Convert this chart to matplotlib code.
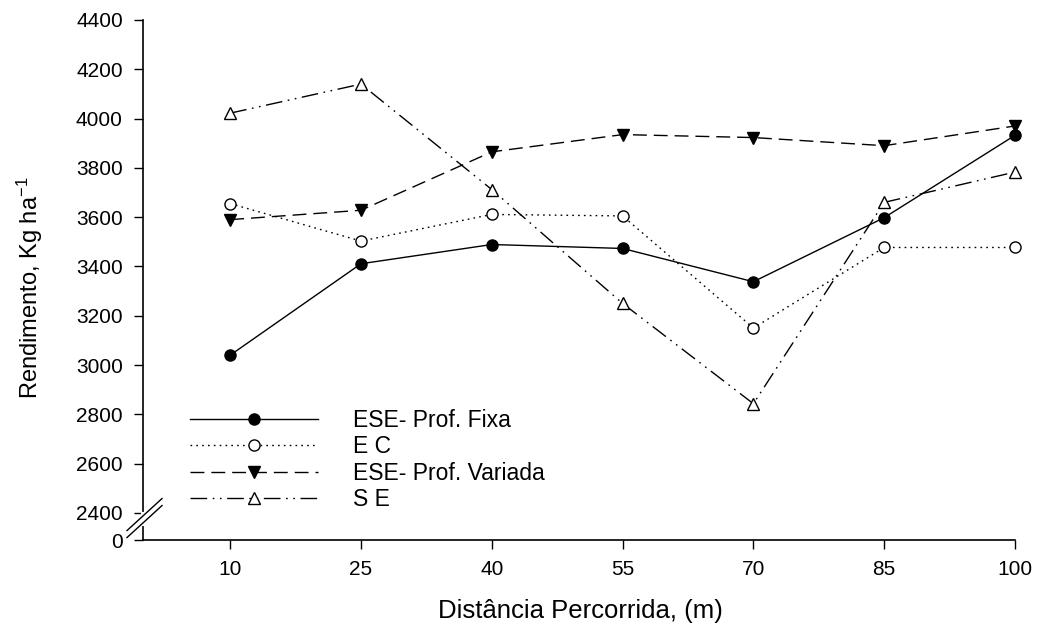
import matplotlib
matplotlib.use('Agg')
import matplotlib.pyplot as plt
from matplotlib.lines import Line2D
import numpy as np

plt.rcParams['font.family'] = ['Liberation Sans', 'DejaVu Sans']
plt.rcParams['mathtext.fontset'] = 'custom'
plt.rcParams['mathtext.rm'] = 'Liberation Sans'
plt.rcParams['mathtext.it'] = 'Liberation Sans'

# data
distancia = [10, 25, 40, 55, 70, 85, 100]
ese_fixa = [3040, 3411, 3489, 3473, 3338, 3598, 3932]
ec = [3655, 3503, 3611, 3605, 3150, 3477, 3477]
ese_variada = [3590, 3628, 3865, 3935, 3923, 3890, 3970]
se = [4022, 4140, 3712, 3250, 2843, 3660, 3783]

labels = ['ESE- Prof. Fixa', 'E C', 'ESE- Prof. Variada', 'S E']
yticks = [2400, 2600, 2800, 3000, 3200, 3400, 3600, 3800, 4000, 4200, 4400]

y_zero = 2290  # where the "0" of the broken axis sits

fig = plt.figure(figsize=(10.39, 6.27), dpi=100)
W, H = 1039, 627
ax = fig.add_axes([143/W, 1-540/H, (1015-143)/W, (540-20)/H])

ax.plot(distancia, ese_fixa, color='black', lw=1, ls='-', marker='o', ms=8,
        mfc='black', mec='black', label=labels[0], clip_on=False, zorder=3)
ax.plot(distancia, ec, color='black', lw=1, ls=(0, (1.2, 3)), marker='o', ms=8,
        mfc='white', mec='black', label=labels[1], clip_on=False, zorder=3)
ax.plot(distancia, ese_variada, color='black', lw=1, ls=(0, (10, 5)), marker='v', ms=9,
        mfc='black', mec='black', label=labels[2], clip_on=False, zorder=3)
ax.plot(distancia, se, color='black', lw=1, ls=(0, (12, 4, 1.2, 4, 1.2, 4)), marker='^', ms=9,
        mfc='white', mec='black', label=labels[3], clip_on=False, zorder=3)

ax.set_xlim(0, 100)
ax.set_ylim(y_zero, 4400)
ax.set_xticks(distancia)
ax.set_xticklabels([str(d) for d in distancia])
ax.set_yticks([y_zero] + yticks)
ax.set_yticklabels(['0'] + [str(v) for v in yticks])

ax.spines['top'].set_visible(False)
ax.spines['right'].set_visible(False)
ax.spines['left'].set_linewidth(1.2)
ax.spines['bottom'].set_linewidth(1.2)
ax.tick_params(direction='out', length=6.5, width=1, labelsize=15)
ax.tick_params(axis='y', pad=8)
ax.tick_params(axis='x', pad=8)

ax.set_xlabel('Distância Percorrida, (m)', fontsize=18.5)
ax.xaxis.label.set_verticalalignment('center')
ax.xaxis.set_label_coords((580-143)/(1015-143), -(611-540)/(540-20))
ax.set_ylabel('Rendimento, Kg ha$^{-1}$', fontsize=17)
ax.yaxis.label.set_verticalalignment('center')
ax.yaxis.set_label_coords(-(143-30)/(1015-143), (540-288)/(540-20))

leg = ax.legend(loc='upper left', bbox_to_anchor=(190/W, 1-409/H),
                bbox_transform=fig.transFigure, frameon=False, fontsize=16.5,
                handlelength=5.6, handletextpad=1.5, labelspacing=0.15,
                numpoints=1, borderaxespad=0, borderpad=0)

# axis break on the left spine
fig.canvas.draw()
to_pix = ax.transData.transform
sx, y0 = to_pix((0, 2355))
_, y1 = to_pix((0, 2395))
fig.add_artist(Line2D([sx/W, sx/W], [y0/H, y1/H], color='white', lw=3,
                      transform=fig.transFigure, zorder=5))
ym = (y0 + y1) / 2
for off in (-3.5, 3.5):
    xs = np.array([sx - 16, sx + 19])
    ys = np.array([ym - 15, ym + 17]) + off
    fig.add_artist(Line2D(xs/W, ys/H, color='black', lw=1,
                          transform=fig.transFigure, zorder=6))

fig.savefig('out.png', dpi=100)
